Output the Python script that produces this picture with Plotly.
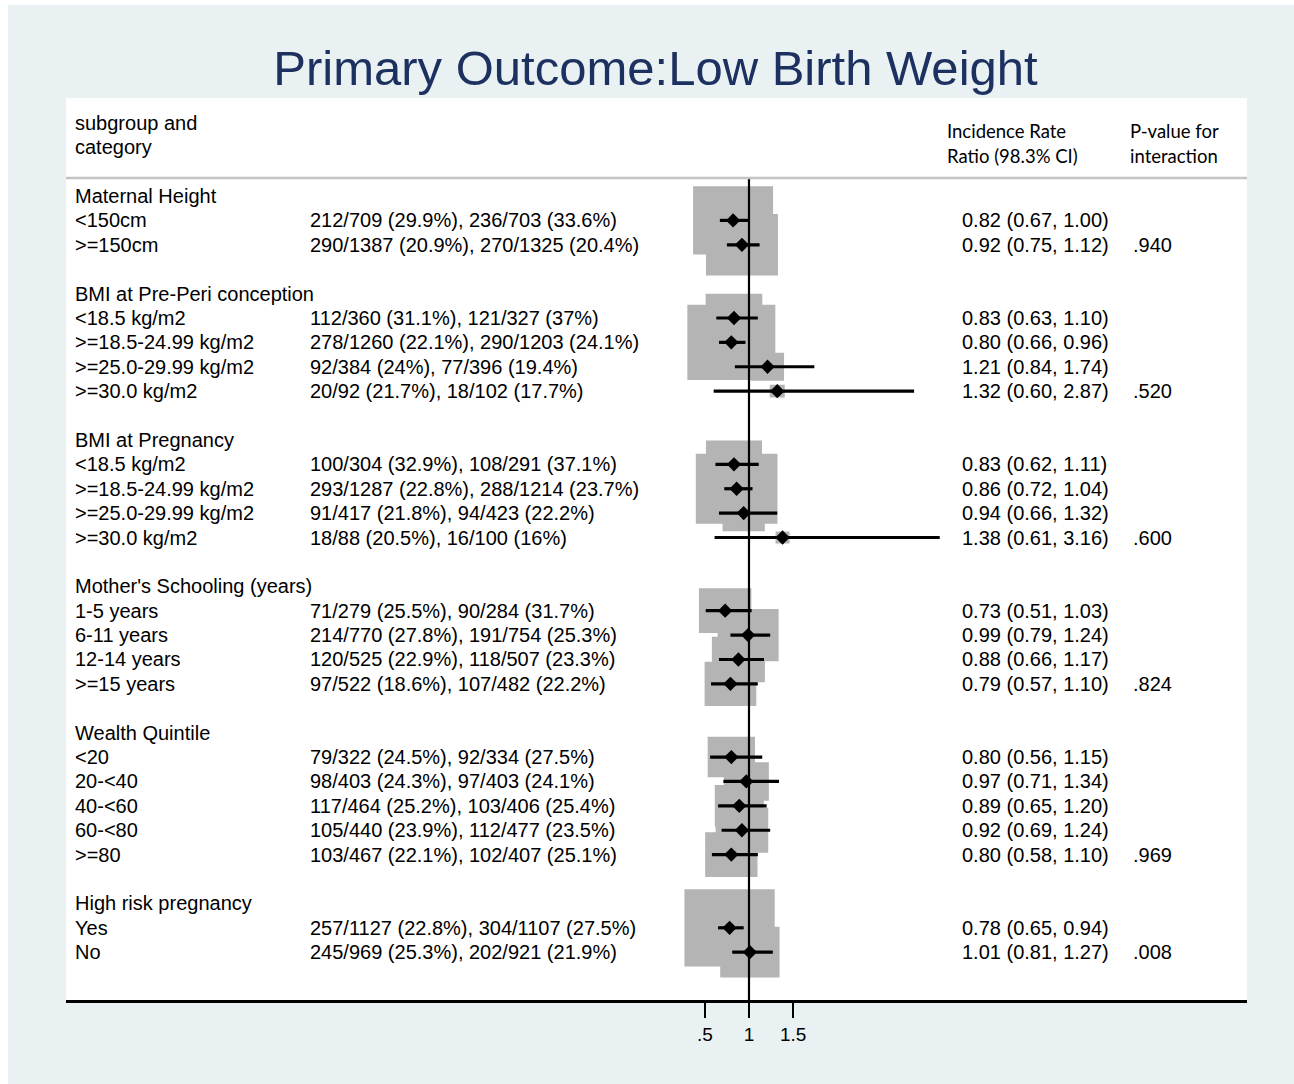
import math
import plotly.graph_objects as go

# ---------------- data ----------------
title_text = "Primary Outcome:Low Birth Weight"

subgroups = ["Maternal Height", "BMI at Pre-Peri conception", "BMI at Pregnancy",
             "Mother's Schooling (years)", "Wealth Quintile", "High risk pregnancy"]

categories = [
    ["<150cm", ">=150cm"],
    ["<18.5 kg/m2", ">=18.5-24.99 kg/m2", ">=25.0-29.99 kg/m2", ">=30.0 kg/m2"],
    ["<18.5 kg/m2", ">=18.5-24.99 kg/m2", ">=25.0-29.99 kg/m2", ">=30.0 kg/m2"],
    ["1-5 years", "6-11 years", "12-14 years", ">=15 years"],
    ["<20", "20-<40", "40-<60", "60-<80", ">=80"],
    ["Yes", "No"],
]

counts = [
    ["212/709 (29.9%), 236/703 (33.6%)", "290/1387 (20.9%), 270/1325 (20.4%)"],
    ["112/360 (31.1%), 121/327 (37%)", "278/1260 (22.1%), 290/1203 (24.1%)",
     "92/384 (24%), 77/396 (19.4%)", "20/92 (21.7%), 18/102 (17.7%)"],
    ["100/304 (32.9%), 108/291 (37.1%)", "293/1287 (22.8%), 288/1214 (23.7%)",
     "91/417 (21.8%), 94/423 (22.2%)", "18/88 (20.5%), 16/100 (16%)"],
    ["71/279 (25.5%), 90/284 (31.7%)", "214/770 (27.8%), 191/754 (25.3%)",
     "120/525 (22.9%), 118/507 (23.3%)", "97/522 (18.6%), 107/482 (22.2%)"],
    ["79/322 (24.5%), 92/334 (27.5%)", "98/403 (24.3%), 97/403 (24.1%)",
     "117/464 (25.2%), 103/406 (25.4%)", "105/440 (23.9%), 112/477 (23.5%)",
     "103/467 (22.1%), 102/407 (25.1%)"],
    ["257/1127 (22.8%), 304/1107 (27.5%)", "245/969 (25.3%), 202/921 (21.9%)"],
]

irr = [
    [0.82, 0.92],
    [0.83, 0.80, 1.21, 1.32],
    [0.83, 0.86, 0.94, 1.38],
    [0.73, 0.99, 0.88, 0.79],
    [0.80, 0.97, 0.89, 0.92, 0.80],
    [0.78, 1.01],
]
lcl = [
    [0.67, 0.75],
    [0.63, 0.66, 0.84, 0.60],
    [0.62, 0.72, 0.66, 0.61],
    [0.51, 0.79, 0.66, 0.57],
    [0.56, 0.71, 0.65, 0.69, 0.58],
    [0.65, 0.81],
]
ucl = [
    [1.00, 1.12],
    [1.10, 0.96, 1.74, 2.87],
    [1.11, 1.04, 1.32, 3.16],
    [1.03, 1.24, 1.17, 1.10],
    [1.15, 1.34, 1.20, 1.24, 1.10],
    [0.94, 1.27],
]
# study weights (box area proportional to weight)
weights = [
    [64.0, 51.8],
    [32.1, 77.4, 10.9, 2.25],
    [31.4, 66.7, 17.9, 1.96],
    [27.5, 37.2, 28.1, 26.7],
    [22.4, 20.3, 24.0, 27.7, 27.4],
    [81.5, 35.2],
]
p_interaction = [".940", ".520", ".600", ".824", ".969", ".008"]

tick_vals = [0.5, 1, 1.5]
tick_text = [".5", "1", "1.5"]

# ---------------- layout constants ----------------
W, H = 1294, 1084
ML, MR, MT, MB = 66, 47, 98, 84
PW, PH = W - ML - MR, H - MT - MB
XMIN, XMAX = -6.735, 6.640
YTOP, YBOT = -4.018, 32.96
px_per_x = PW / (XMAX - XMIN)
px_per_row = PH / (YBOT - YTOP)

FONT = "Arial, Liberation Sans, sans-serif"
HFONT = "Lato, Carlito, Calibri, sans-serif"
FS = 20
HFS = 18.5
BOX_COLOR = "#b4b4b4"


def pxx(px):
    return (px - ML) / PW


def pxy(py):
    return (H - MB - py) / PH


# row positions
rows_head, rows_cat = [], []
r = 0
for g, cats in enumerate(categories):
    rows_head.append(r)
    r += 1
    rc = []
    for _ in cats:
        rc.append(r)
        r += 1
    rows_cat.append(rc)
    r += 1

fig = go.Figure()

# grey weight boxes
bx, by = [], []
for g in range(len(categories)):
    for i in range(len(categories[g])):
        side = 10 * math.sqrt(weights[g][i])
        hw = side / 2 / px_per_x
        hh = 0.855 * side / 2 / px_per_row
        x0, x1 = irr[g][i] - hw, irr[g][i] + hw
        y0, y1 = rows_cat[g][i] - hh, rows_cat[g][i] + hh
        bx += [x0, x1, x1, x0, x0, None]
        by += [y0, y0, y1, y1, y0, None]
fig.add_trace(go.Scatter(x=bx, y=by, mode="lines", fill="toself", fillcolor=BOX_COLOR,
                         line=dict(width=0, color=BOX_COLOR), hoverinfo="skip", showlegend=False))

# CI lines
cx, cy = [], []
for g in range(len(categories)):
    for i in range(len(categories[g])):
        cx += [lcl[g][i], ucl[g][i], None]
        cy += [rows_cat[g][i], rows_cat[g][i], None]
fig.add_trace(go.Scatter(x=cx, y=cy, mode="lines", line=dict(color="black", width=3.2),
                         hoverinfo="skip", showlegend=False))

# reference line at 1
sep_row = (178 - 196) / px_per_row
fig.add_trace(go.Scatter(x=[1, 1], y=[sep_row, YBOT], mode="lines",
                         line=dict(color="black", width=2.2), hoverinfo="skip", showlegend=False))

# point estimates
ex = [v for grp in irr for v in grp]
ey = [v for grp in rows_cat for v in grp]
fig.add_trace(go.Scatter(x=ex, y=ey, mode="markers",
                         marker=dict(symbol="diamond", size=11, color="black", line=dict(width=0)),
                         hoverinfo="skip", showlegend=False))

ann = []


def add_text(x_px, row, text, font=FONT, size=FS):
    ann.append(dict(x=pxx(x_px - 2), xref="paper", xanchor="left", y=row, yref="y",
                    yanchor="middle", text=text, showarrow=False,
                    font=dict(family=font, size=size, color="black")))


# header
add_text(75, -2.99, "subgroup and")
add_text(75, -2.01, "category")
add_text(947, -2.66, "Incidence Rate", HFONT, HFS)
add_text(947, -1.64, "Ratio (98.3% CI)", HFONT, HFS)
add_text(1130, -2.66, "P-value for", HFONT, HFS)
add_text(1130, -1.64, "interaction", HFONT, HFS)

for g in range(len(categories)):
    add_text(75, rows_head[g], subgroups[g])
    for i in range(len(categories[g])):
        rr = rows_cat[g][i]
        add_text(75, rr, categories[g][i])
        add_text(310, rr, counts[g][i])
        add_text(962, rr, f"{irr[g][i]:.2f} ({lcl[g][i]:.2f}, {ucl[g][i]:.2f})")
    add_text(1133, rows_cat[g][-1], p_interaction[g])

shapes = [
    # outer graph region
    dict(type="rect", xref="paper", yref="paper", x0=pxx(8), x1=pxx(1294), y0=pxy(1084), y1=pxy(5),
         fillcolor="#eaf1f3", line=dict(width=0), layer="below"),
    # white plot panel
    dict(type="rect", xref="paper", yref="paper", x0=0, x1=1, y0=0, y1=1,
         fillcolor="white", line=dict(width=0), layer="below"),
    # header separator
    dict(type="line", xref="paper", yref="y", x0=0, x1=1, y0=sep_row, y1=sep_row,
         line=dict(color="#c4c4c4", width=2.5), layer="above"),
]

fig.update_layout(
    width=W, height=H,
    margin=dict(l=ML, r=MR, t=MT, b=MB, pad=0),
    paper_bgcolor="white", plot_bgcolor="white",
    title=dict(text=title_text, x=655.5 / W, xref="container", xanchor="center",
               y=1 - 68 / H, yref="container", yanchor="middle",
               font=dict(family=FONT, size=49, color="#1d3160")),
    xaxis=dict(range=[XMIN, XMAX], showgrid=False, zeroline=False, showline=True,
               linecolor="black", linewidth=3, ticks="outside", ticklen=15, tickwidth=2,
               tickcolor="black", tickvals=tick_vals, ticktext=tick_text,
               tickfont=dict(family=FONT, size=19, color="black"), fixedrange=True),
    yaxis=dict(range=[YBOT, YTOP], visible=False, showgrid=False, zeroline=False, fixedrange=True),
    shapes=shapes,
    annotations=ann,
    showlegend=False,
)

fig.write_html("out.html")
